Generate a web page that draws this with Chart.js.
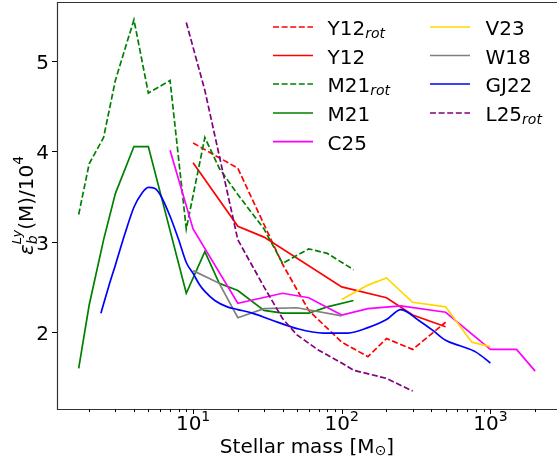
<!DOCTYPE html>
<html>
<head>
<meta charset="utf-8">
<script src="https://cdn.jsdelivr.net/npm/chart.js@4.4.0/dist/chart.umd.min.js"></script>
<style>
  body { margin: 0; background: #fff; }
  canvas { display: block; }
</style>
</head>
<body>
<canvas id="chart" width="557" height="462"></canvas>
<script>
// stellar masses (M_sun) and efficiency values for each curve
const y12RotMass = [10, 20, 40, 60, 100, 150, 200, 300, 500]
const y12RotVal = [4.09, 3.81, 2.75, 2.24, 1.89, 1.73, 1.93, 1.81, 2.11]

const y12Mass = [10, 20, 30, 100, 200, 300, 500]
const y12Val = [3.87, 3.17, 3.05, 2.50, 2.38, 2.19, 2.06]

const m21RotMass = [1.7, 2, 2.5, 3, 4, 5, 7, 9, 12, 15, 20, 30, 40, 60, 80, 120]
const m21RotVal = [3.30, 3.86, 4.15, 4.78, 5.45, 4.64, 4.78, 3.14, 4.15, 3.81, 3.52, 3.14, 2.76, 2.92, 2.87, 2.69]

const m21Mass = [1.7, 2, 2.5, 3, 4, 5, 9, 12, 15, 20, 30, 40, 60, 80, 120]
const m21Val = [1.60, 2.30, 3.02, 3.53, 4.05, 4.05, 2.43, 2.89, 2.54, 2.46, 2.24, 2.21, 2.21, 2.28, 2.35]

const c25Mass = [7, 10, 20, 40, 60, 100, 150, 250, 500, 1000, 1500, 2000]
const c25Val = [4.01, 3.14, 2.32, 2.43, 2.38, 2.19, 2.26, 2.29, 2.22, 1.81, 1.81, 1.57]

const v23Mass = [100, 150, 200, 300, 500, 750, 1000]
const v23Val = [2.36, 2.52, 2.60, 2.33, 2.28, 1.89, 1.84]

const w18Mass = [10, 15, 20, 30, 50, 100]
const w18Val = [2.68, 2.54, 2.16, 2.26, 2.27, 2.18]

const gj22Mass = [2.4, 2.7, 3, 3.5, 4, 4.5, 5, 5.5, 6, 7, 8, 9, 10, 11, 12, 14, 17, 20, 25, 33, 50, 75, 110, 150, 200, 250, 330, 410, 500, 625, 800, 1000]
const gj22Val = [2.21, 2.50, 2.74, 3.10, 3.38, 3.53, 3.60, 3.59, 3.52, 3.28, 3.02, 2.77, 2.65, 2.53, 2.45, 2.35, 2.28, 2.25, 2.21, 2.14, 2.04, 1.99, 1.99, 2.05, 2.14, 2.25, 2.13, 2.02, 1.91, 1.85, 1.78, 1.66]

const l25RotMass = [9, 12, 20, 30, 40, 50, 70, 100, 120, 200, 300]
const l25RotVal = [5.42, 4.67, 3.02, 2.50, 2.15, 1.97, 1.80, 1.66, 1.58, 1.49, 1.35]

const seriesNames = ['Y12', 'Y12', 'M21', 'M21', 'C25', 'V23', 'W18', 'GJ22', 'L25']
const seriesSubs = ['rot', '', 'rot', '', '', '', '', '', 'rot']
const seriesColors = ['#ff0000', '#ff0000', '#008000', '#008000', '#ff00ff', '#ffd700', '#808080', '#0000ff', '#800080']
const seriesDashed = [true, false, true, false, false, false, false, false, true]
const seriesSmooth = [false, false, false, false, false, false, false, true, false]

const xMajorTicks = [10, 100, 1000]
const xTickExps = ['1', '2', '3']
const yTicks = [2, 3, 4, 5]
const yTickLabels = ['2', '3', '4', '5']

const FONT = '"DejaVu Sans", sans-serif'
const DASH = [6, 2.6]

function toPoints(mass, vals) {
    return mass.map((m, i) => ({ x: m, y: vals[i] }))
}

const seriesData = [
    toPoints(y12RotMass, y12RotVal),
    toPoints(y12Mass, y12Val),
    toPoints(m21RotMass, m21RotVal),
    toPoints(m21Mass, m21Val),
    toPoints(c25Mass, c25Val),
    toPoints(v23Mass, v23Val),
    toPoints(w18Mass, w18Val),
    toPoints(gj22Mass, gj22Val),
    toPoints(l25RotMass, l25RotVal)
]

// text made of pieces: {t, size, italic, dy, stay}
function setFont(ctx, r) {
    ctx.font = (r.italic ? 'italic ' : '') + r.size + 'px ' + FONT
}
function runsWidth(ctx, runs) {
    let w = 0
    runs.forEach(r => {
        setFont(ctx, r)
        if (!r.stay) w += ctx.measureText(r.t).width
    })
    return w
}
function drawRuns(ctx, runs, x, y) {
    runs.forEach(r => {
        setFont(ctx, r)
        ctx.fillText(r.t, x, y + (r.dy || 0))
        if (!r.stay) x += ctx.measureText(r.t).width
    })
}

const axesPlugin = {
    id: 'axesPlugin',
    afterDatasetsDraw(chart) {
        const ctx = chart.ctx
        const a = chart.chartArea
        const xs = chart.scales.x
        const ys = chart.scales.y
        ctx.save()
        ctx.fillStyle = '#000'
        ctx.textAlign = 'left'
        ctx.textBaseline = 'alphabetic'

        // frame (right spine falls just outside the picture)
        ctx.strokeStyle = '#333'
        ctx.lineWidth = 1.2
        ctx.beginPath()
        ctx.moveTo(a.right + 2, a.top + 0.5)
        ctx.lineTo(a.left + 0.5, a.top + 0.5)
        ctx.lineTo(a.left + 0.5, a.bottom + 0.5)
        ctx.lineTo(a.right + 2, a.bottom + 0.5)
        ctx.stroke()

        // x ticks, major and minor
        ctx.lineWidth = 1
        ctx.strokeStyle = '#000'
        for (let d = 1; d <= 1000; d *= 10) {
            for (let k = 1; k <= 9; k++) {
                const v = k * d
                if (v < xs.min || v > xs.max) continue
                const px = Math.round(xs.getPixelForValue(v)) + 0.5
                const len = k === 1 ? 5 : 3
                ctx.beginPath()
                ctx.moveTo(px, a.bottom)
                ctx.lineTo(px, a.bottom + len)
                ctx.stroke()
            }
        }
        xMajorTicks.forEach((v, i) => {
            const runs = [
                { t: '10', size: 20 },
                { t: xTickExps[i], size: 14, dy: -9 }
            ]
            const w = runsWidth(ctx, runs)
            drawRuns(ctx, runs, xs.getPixelForValue(v) - w / 2, 430)
        })

        // y ticks
        yTicks.forEach((v, i) => {
            const py = Math.round(ys.getPixelForValue(v)) + 0.5
            ctx.beginPath()
            ctx.moveTo(a.left, py)
            ctx.lineTo(a.left - 5, py)
            ctx.stroke()
            ctx.font = '20px ' + FONT
            ctx.textAlign = 'right'
            ctx.fillText(yTickLabels[i], a.left - 8, py + 7)
            ctx.textAlign = 'left'
        })

        // x label
        const xl = [
            { t: 'Stellar mass [M', size: 20 },
            { t: '\u2299', size: 14, dy: 2 },
            { t: ']', size: 20 }
        ]
        const xw = runsWidth(ctx, xl)
        drawRuns(ctx, xl, (a.left + a.right) / 2 - xw / 2, 453)

        // y label, rotated
        const yl = [
            { t: '\u03b5', size: 20, italic: true },
            { t: 'b', size: 14, italic: true, dy: 4, stay: true },
            { t: 'Ly', size: 13, italic: true, dy: -12 },
            { t: '(M)/10', size: 20 },
            { t: '4', size: 14, dy: -10 }
        ]
        const yw = runsWidth(ctx, yl)
        ctx.save()
        ctx.translate(33, (a.top + a.bottom) / 2)
        ctx.rotate(-Math.PI / 2)
        drawRuns(ctx, yl, -yw / 2, 0)
        ctx.restore()

        // legend, two columns
        const rowY = [27, 55.5, 84, 113, 141.7]
        const cols = [{ lx: 273, tx: 327.5 }, { lx: 430, tx: 485.5 }]
        seriesNames.forEach((name, i) => {
            const col = cols[i < 5 ? 0 : 1]
            const y = rowY[i < 5 ? i : i - 5]
            ctx.strokeStyle = seriesColors[i]
            ctx.lineWidth = 1.7
            ctx.setLineDash(seriesDashed[i] ? DASH : [])
            ctx.beginPath()
            ctx.moveTo(col.lx, y)
            ctx.lineTo(col.lx + 40, y)
            ctx.stroke()
            ctx.setLineDash([])
            const runs = [{ t: name, size: 20 }]
            if (seriesSubs[i]) runs.push({ t: seriesSubs[i], size: 14, italic: true, dy: 3 })
            drawRuns(ctx, runs, col.tx, y + 8)
        })
        ctx.restore()
    }
}

document.addEventListener("DOMContentLoaded", function () {
    const ctx = document.getElementById("chart").getContext("2d")
    const datasets = seriesData.map((pts, i) => ({
        label: seriesNames[i] + seriesSubs[i],
        data: pts,
        borderColor: seriesColors[i],
        backgroundColor: seriesColors[i],
        borderWidth: 1.7,
        borderDash: seriesDashed[i] ? DASH : [],
        pointRadius: 0,
        fill: false,
        tension: 0,
        cubicInterpolationMode: seriesSmooth[i] ? 'monotone' : 'default',
        order: seriesData.length - i
    }))

    new Chart(ctx, {
        type: 'line',
        data: { datasets: datasets },
        options: {
            responsive: false,
            animation: false,
            devicePixelRatio: 1,
            layout: { padding: { left: 57, top: 2, right: 0, bottom: 53 } },
            plugins: {
                legend: { display: false },
                tooltip: { enabled: false }
            },
            scales: {
                x: { type: 'logarithmic', min: 1.215, max: 2806, display: false },
                y: { type: 'linear', min: 1.152, max: 5.646, display: false }
            }
        },
        plugins: [axesPlugin]
    })
})
</script>
</body>
</html>
